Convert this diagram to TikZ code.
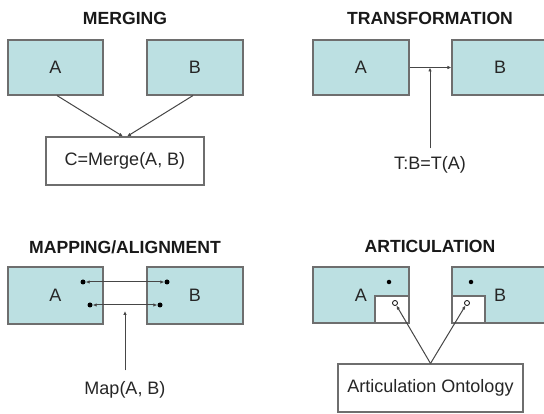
\documentclass[tikz,border=0pt]{standalone}
\usepackage{fontspec}
\setmainfont{Liberation Sans}
\usetikzlibrary{arrows.meta}
\definecolor{tealfill}{RGB}{188,224,226}
\definecolor{edgegray}{RGB}{110,110,110}
\definecolor{linegray}{RGB}{70,70,70}
\tikzset{
  tbox/.style={draw=edgegray, line width=1.1pt, fill=tealfill, inner sep=0pt, font=\fontsize{18}{18}\selectfont, text=black!85},
  wbox/.style={draw=edgegray, line width=1.1pt, fill=white, inner sep=0pt, font=\fontsize{18}{18}\selectfont, text=black!85},
  ttl/.style={font=\bfseries\fontsize{17.6}{17.6}\selectfont, inner sep=0pt, text=black!90},
  lbl/.style={font=\fontsize{18}{18}\selectfont, inner sep=0pt, text=black!85},
  conn/.style={draw=linegray, line width=1pt, -{Latex[length=4pt,width=3.5pt]}},
  dconn/.style={draw=linegray, line width=1pt, {Latex[length=4pt,width=3.5pt]}-{Latex[length=4pt,width=3.5pt]}},
  fdot/.style={circle, fill=black, inner sep=0pt, minimum size=5pt},
  odot/.style={circle, draw=black, fill=white, line width=0.8pt, inner sep=0pt, minimum size=5pt},
}
\begin{document}
\begin{tikzpicture}[x=1pt, y=-1pt]
\useasboundingbox (0,0) rectangle (544,414);
\fill[white] (0,0) rectangle (544,414);
% MERGING
\node[ttl] (t1) at (125,18) {MERGING};
\node[tbox, minimum width=95pt, minimum height=55pt] (mA) at (55.5,67.5) {A};
\node[tbox, minimum width=96pt, minimum height=55pt] (mB) at (195,67.5) {B};
\node[wbox, minimum width=158pt, minimum height=48pt] (mC) at (125,161) {C=Merge(A, B)};
\draw[conn] ([xshift=1.5pt]mA.south) -- ([xshift=-2pt]mC.north);
\draw[conn] ([xshift=-2pt]mB.south) -- ([xshift=2pt]mC.north);
% TRANSFORMATION
\node[ttl] (t2) at (430,18) {TRANSFORMATION};
\node[tbox, minimum width=96pt, minimum height=55pt] (tA) at (361,67.5) {A};
\node[tbox, minimum width=96pt, minimum height=55pt] (tB) at (500,67.5) {B};
\node[lbl] (tT) at (430,165) {T:B=T(A)};
\coordinate (tmid) at (430,67.5);
\draw[conn] (tA.east) -- (tB.west);
\draw[conn] ([yshift=8pt]tT.north) -- (tmid);
% MAPPING / ALIGNMENT
\node[ttl] (t3) at (125,247) {MAPPING/ALIGNMENT};
\node[tbox, minimum width=95pt, minimum height=57pt] (pA) at (55.5,295.5) {A};
\node[tbox, minimum width=96pt, minimum height=57pt] (pB) at (195,295.5) {B};
\node[fdot] (d1) at (83,282) {};
\node[fdot] (d2) at (167,282) {};
\node[fdot] (d3) at (90,305) {};
\node[fdot] (d4) at (160,305) {};
\draw[dconn] (d1) -- (d2);
\draw[dconn] (d3) -- (d4);
\node[lbl] (pM) at (125,390) {Map(A, B)};
\coordinate (pmid) at (125,311);
\draw[conn] ([yshift=11pt]pM.north) -- (pmid);
% ARTICULATION
\node[ttl] (t4) at (430,246) {ARTICULATION};
\node[tbox, minimum width=96pt, minimum height=56pt] (aA) at (361,295) {};
\node[tbox, minimum width=96pt, minimum height=56pt] (aB) at (500,295) {};
\node[wbox, minimum width=34pt, minimum height=27pt] (aAi) at (392,309.5) {};
\node[wbox, minimum width=33pt, minimum height=27pt] (aBi) at (468.5,309.5) {};
\node[lbl] (aAt) at (361,295) {A};
\node[lbl] (aBt) at (500,295) {B};
\node[fdot, minimum size=4.5pt] (e1) at (389,282) {};
\node[fdot, minimum size=4.5pt] (e2) at (471,282) {};
\node[odot] (c1) at (395,303) {};
\node[odot] (c2) at (467,303) {};
\node[wbox, minimum width=185pt, minimum height=48pt] (aO) at (430.5,388) {Articulation Ontology};
\draw[conn] (aO.north) -- (c1);
\draw[conn] (aO.north) -- (c2);
\end{tikzpicture}
\end{document}
